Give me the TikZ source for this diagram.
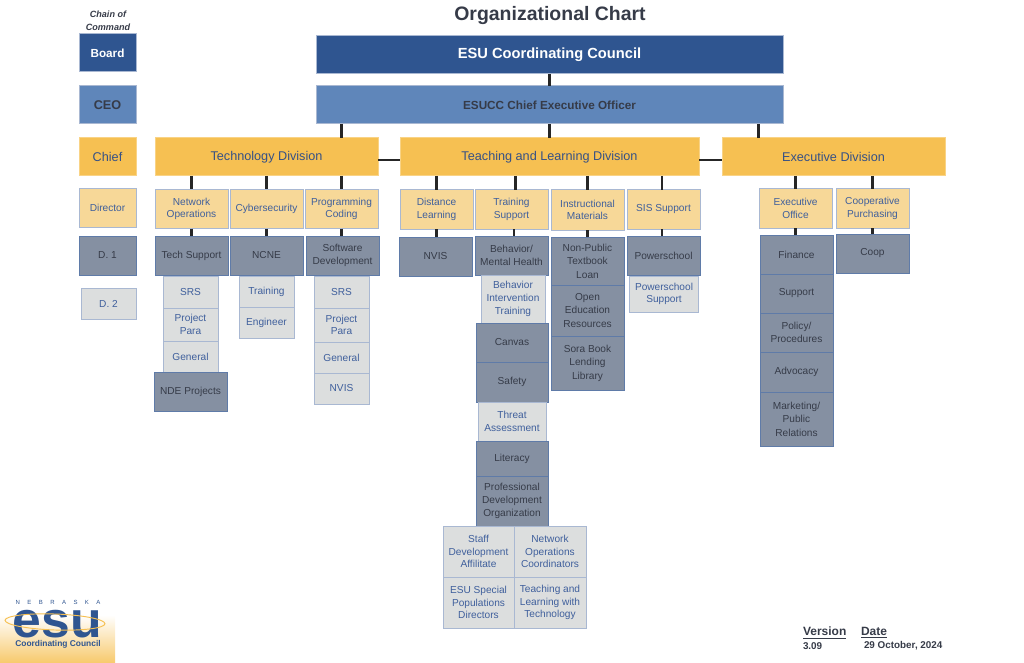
\documentclass[tikz,border=0pt]{standalone}
\usepackage{fontspec}
\setmainfont{Liberation Sans}
\usetikzlibrary{positioning}
\definecolor{navyfill}{HTML}{2F5590}
\definecolor{steelfill}{HTML}{5F86BA}
\definecolor{goldfill}{HTML}{F6C052}
\definecolor{sandfill}{HTML}{F7D898}
\definecolor{slatefill}{HTML}{8590A2}
\definecolor{palefill}{HTML}{DCDEDE}
\definecolor{inkblue}{HTML}{3F5F9C}
\definecolor{inkdark}{HTML}{363B48}
\definecolor{edgeblue}{HTML}{A9B8D2}
\definecolor{edgeslate}{HTML}{5F7BA8}
\begin{document}
\begin{tikzpicture}[x=0.75pt, y=-0.75pt, node distance=0pt,
    wh/.style 2 args = {minimum width=#1*0.75pt, minimum height=#2*0.75pt},
    cell/.style = {draw, line width=0.75pt, inner sep=0pt, outer sep=0pt, align=center, font=\fontsize{7.6}{9.5}\selectfont},
    councilbox/.style = {cell, fill=navyfill, draw=edgeblue, text=white, font=\fontsize{11}{14}\selectfont\bfseries},
    ceobox/.style = {cell, fill=steelfill, draw=edgeblue, text=inkdark, font=\fontsize{8.8}{11}\selectfont\bfseries},
    chiefbox/.style = {cell, fill=goldfill, draw=goldfill!70!white, text=inkblue!85!black, font=\fontsize{9.5}{11}\selectfont},
    dirbox/.style = {cell, fill=sandfill, draw=edgeblue, text=inkblue, wh={73}{39}},
    deptbox/.style = {cell, fill=slatefill, draw=edgeslate, text=inkdark, wh={73}{39}},
    tallbox/.style = {deptbox, font=\fontsize{7.6}{10.1}\selectfont},
    subbox/.style = {cell, fill=palefill, draw=edgeblue, text=inkblue, wh={55}{32}},
    link/.style = {draw=black!85, line width=1.6pt},
    note/.style = {inner sep=0pt, outer sep=0pt, align=center, text=inkdark}]
    \useasboundingbox (0,0) rectangle (1024,663);
    % title and left hand legend
    \node[note, font=\fontsize{14.6}{18}\selectfont\bfseries] (title) at (550,15.5) {Organizational Chart};
    \node[note, font=\fontsize{6.8}{10}\selectfont\bfseries\itshape] (chain) at (108,20.5) {Chain of\\Command};
    \node[councilbox, wh={57}{38}, font=\fontsize{8.8}{11}\selectfont\bfseries] (board) at (107.5,53) {Board};
    \node[ceobox, wh={57}{38}, font=\fontsize{9.5}{11}\selectfont\bfseries] (ceolabel) at (107.5,105) {CEO};
    \node[chiefbox, wh={57}{38}] (chief) at (107.5,157) {Chief};
    \node[dirbox, wh={57}{39}] (director) at (107.5,208) {Director};
    \node[deptbox, wh={57}{39}] (done) at (107.5,255.5) {D. 1};
    \node[subbox, wh={55}{31}] (dtwo) at (108.5,303.5) {D. 2};
    % top of the chart
    \node[councilbox, wh={467}{38}] (council) at (549.5,55) {ESU Coordinating Council};
    \node[ceobox, wh={467}{38}] (ceo) at (549.5,105) {ESUCC Chief Executive Officer};
    \node[chiefbox, wh={223}{38}] (tech) at (266.5,157) {Technology Division};
    \node[chiefbox, wh={299}{38}] (teach) at (549.5,157) {Teaching and Learning Division};
    \node[chiefbox, wh={223}{38}] (exec) at (833.5,157) {Executive Division};
    % technology division
    \node[dirbox] (net) at (191.5,209) {Network\\Operations};
    \node[dirbox] (cyber) at (266.5,209) {Cybersecurity};
    \node[dirbox] (prog) at (341.5,209) {Programming\\Coding};
    \node[deptbox] (support) at (191.5,255.5) {Tech Support};
    \node[subbox] (srsa) at (190.5,292) {SRS};
    \node[subbox, wh={55}{33}, below=of srsa] (paraa) {Project\\Para};
    \node[subbox, wh={55}{31}, below=of paraa] (gena) {General};
    \node[deptbox, below=of gena] (nde) {NDE Projects};
    \node[deptbox] (ncne) at (266.5,255.5) {NCNE};
    \node[subbox, wh={55}{31}] (train) at (266.5,291.5) {Training};
    \node[subbox, wh={55}{31}, below=of train] (engineer) {Engineer};
    \node[deptbox] (soft) at (342.5,255.5) {Software\\Development};
    \node[subbox] (srsb) at (341.5,292) {SRS};
    \node[subbox, wh={55}{34}, below=of srsb] (parab) {Project\\Para};
    \node[subbox, wh={55}{31}, below=of parab] (genb) {General};
    \node[subbox, wh={55}{31}, below=of genb] (nvisb) {NVIS};
    % teaching and learning division
    \node[dirbox] (dist) at (436.5,209.5) {Distance\\Learning};
    \node[dirbox] (trainsup) at (511.5,209.5) {Training\\Support};
    \node[dirbox, wh={73}{40}] (instr) at (587.5,210) {Instructional\\Materials};
    \node[dirbox] (sis) at (663.5,209.5) {SIS Support};
    \node[deptbox] (nvisa) at (435.5,256.5) {NVIS};
    \node[deptbox] (behav) at (511.5,255.5) {Behavior/\\Mental Health};
    \node[subbox, wh={64}{48}] (interv) at (513,299) {Behavior\\Intervention\\Training};
    \node[deptbox, wh={72}{39}] (canvas) at (512,342.5) {Canvas};
    \node[deptbox, wh={72}{40}, below=of canvas] (safety) {Safety};
    \node[subbox, wh={68}{39}] (threat) at (512,421.5) {Threat\\Assessment};
    \node[deptbox, wh={72}{35}] (liter) at (512,458.5) {Literacy};
    \node[deptbox, wh={72}{50}, below=of liter] (profdev) {Professional\\Development\\Organization};
    \node[subbox, wh={71}{51}] (staff) at (478.5,551.5) {Staff\\Development\\Affilitate};
    \node[subbox, wh={72}{51}] (netco) at (550,551.5) {Network\\Operations\\Coordinators};
    \node[subbox, wh={71}{51}, below=of staff] (special) {ESU Special\\Populations\\Directors};
    \node[subbox, wh={72}{51}, below=of netco] (tltech) {Teaching and\\Learning with\\Technology};
    \node[tallbox, wh={73}{48}] (textbook) at (587.5,261) {Non-Public\\Textbook\\Loan};
    \node[tallbox, wh={73}{51}, below=of textbook] (openres) {Open\\Education\\Resources};
    \node[tallbox, wh={73}{54}, below=of openres] (sora) {Sora Book\\Lending\\Library};
    \node[deptbox] (power) at (663.5,255.5) {Powerschool};
    \node[subbox, wh={69}{36}] (powersup) at (664,294) {Powerschool\\Support};
    % executive division
    \node[dirbox] (office) at (795.5,208.5) {Executive\\Office};
    \node[dirbox] (purch) at (872.5,208.5) {Cooperative\\Purchasing};
    \node[deptbox] (fin) at (796.5,254.5) {Finance};
    \node[deptbox, below=of fin] (supp) {Support};
    \node[deptbox, below=of supp] (policy) {Policy/\\Procedures};
    \node[deptbox, wh={73}{40}, below=of policy] (advoc) {Advocacy};
    \node[tallbox, wh={73}{54}, below=of advoc] (market) {Marketing/\\Public\\Relations};
    \node[deptbox] (coop) at (872.5,253.5) {Coop};
    % connectors
    \draw[link] (council) -- (ceo);
    \draw[link] (ceo) -- (teach);
    \draw[link] (ceo.south -| prog) -- (tech.north -| prog);
    \draw[link] ([xshift=-56.25pt]exec.north) -- ([xshift=-56.25pt]exec.north |- ceo.south);
    \draw[link] ([yshift=-2.25pt]tech.east) -- ([yshift=-2.25pt]teach.west);
    \draw[link] ([yshift=-2.25pt]teach.east) -- ([yshift=-2.25pt]exec.west);
    \draw[link] (tech.south -| net) -- (net.north);
    \draw[link] (tech.south -| cyber) -- (cyber.north);
    \draw[link] (tech.south -| prog) -- (prog.north);
    \draw[link] (net) -- (support);
    \draw[link] (cyber) -- (ncne);
    \draw[link] (prog.south) -- (prog.south |- soft.north);
    \draw[link] (teach.south -| dist) -- (dist.north);
    \draw[link] ([xshift=3pt]teach.south -| trainsup) -- ([xshift=3pt]trainsup.north);
    \draw[link] (teach.south -| instr) -- (instr.north);
    \draw[link] ([xshift=-1pt]teach.south -| sis) -- ([xshift=-1pt]sis.north);
    \draw[link] (dist.south) -- (dist.south |- nvisa.north);
    \draw[link] ([xshift=2pt]trainsup.south) -- ([xshift=2pt]behav.north);
    \draw[link] (instr) -- (textbook);
    \draw[link] ([xshift=-1pt]sis.south) -- ([xshift=-1pt]power.north);
    \draw[link] (exec.south -| office) -- (office.north);
    \draw[link] (exec.south -| purch) -- (purch.north);
    \draw[link] (office.south) -- (office.south |- fin.north);
    \draw[link] (purch) -- (coop);
    % logo and version block
    \shade[top color=white, bottom color=goldfill!85!white] (0,615) rectangle (115,663);
    \node[note, text=navyfill, font=\fontsize{4.5}{5}\selectfont] (state) at (58,602.5) {\spaceskip=5.6pt N E B R A S K A};
    \node[note, text=navyfill, xscale=1.02, font=\fontsize{38}{38}\selectfont\bfseries] (esu) at (57.5,624.5) {esu};
    \draw[goldfill, line width=0.7pt, rotate around={-2:(55,622)}] (55,622) ellipse [x radius=50, y radius=8];
    \node[note, text=navyfill, font=\fontsize{6.3}{7}\selectfont\bfseries] (coordcouncil) at (58,644.5) {Coordinating Council};
    \node[note, anchor=west, font=\fontsize{9}{11}\selectfont\bfseries] (version) at (803,633) {\underline{Version}};
    \node[note, anchor=west, font=\fontsize{9}{11}\selectfont\bfseries] (date) at (861,633) {\underline{Date}};
    \node[note, anchor=west, font=\fontsize{7.4}{9}\selectfont\bfseries] (vernum) at (803,646) {3.09};
    \node[note, anchor=west, font=\fontsize{7.4}{9}\selectfont\bfseries] (dateval) at (864,646) {29 October, 2024};
\end{tikzpicture}
\end{document}
